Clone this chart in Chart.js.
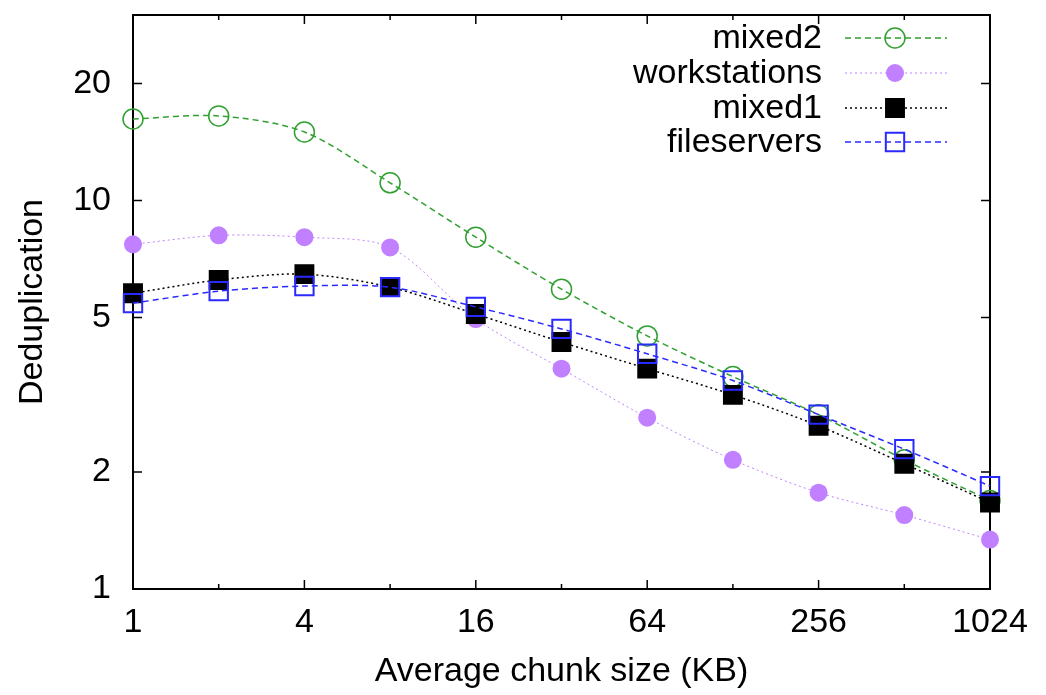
<!DOCTYPE html>
<html>
<head>
<meta charset="utf-8">
<script src="https://cdn.jsdelivr.net/npm/chart.js@4/dist/chart.umd.min.js"></script>
<style>
    html, body { margin: 0; padding: 0; background: #fff; }
    #wrap { width: 1046px; height: 695px; }
</style>
</head>
<body>
<div id="wrap"><canvas id="chart"></canvas></div>
<script>
// chunk sizes in KB (x) and dedup ratios per trace set
const chunkSizes = [1, 2, 4, 8, 16, 32, 64, 128, 256, 512, 1024];
const xLabelled = [1, 4, 16, 64, 256, 1024];
const yTicks = [1, 2, 5, 10, 20];

const mixed2 = [16.2, 16.5, 15.0, 11.1, 8.04, 5.91, 4.48, 3.52, 2.81, 2.15, 1.69];
const workstations = [7.71, 8.13, 8.04, 7.57, 4.95, 3.69, 2.76, 2.15, 1.77, 1.55, 1.34];
const mixed1 = [5.77, 6.24, 6.46, 5.98, 5.10, 4.32, 3.69, 3.16, 2.63, 2.10, 1.67];
const fileservers = [5.44, 5.84, 6.02, 5.98, 5.32, 4.67, 4.03, 3.44, 2.81, 2.29, 1.84];

const FONT = "'Liberation Sans', Arial, sans-serif";

function points(values) {
    return chunkSizes.map((x, i) => ({ x: x, y: values[i] }));
}

function series(label, values, color, opts) {
    return Object.assign({
        label: label,
        data: points(values),
        borderColor: color,
        pointBorderColor: color,
        pointBackgroundColor: 'rgba(0,0,0,0)',
        borderWidth: 1.5,
        pointBorderWidth: 1.5,
        tension: 0.3,
        clip: false
    }, opts);
}

// gnuplot-style frame with inward ticks on all four sides
const framePlugin = {
    id: 'frame',
    beforeDatasetsDraw(chart) {
        const { ctx, chartArea: a, scales: { x, y } } = chart;
        ctx.save();
        ctx.strokeStyle = '#000';
        ctx.lineWidth = 2;
        ctx.strokeRect(a.left, a.top, a.right - a.left, a.bottom - a.top);
        ctx.lineWidth = 1.5;
        ctx.beginPath();
        chunkSizes.forEach(v => {
            const px = x.getPixelForValue(v);
            const len = xLabelled.includes(v) ? 9 : 5;
            ctx.moveTo(px, a.bottom); ctx.lineTo(px, a.bottom - len);
            ctx.moveTo(px, a.top); ctx.lineTo(px, a.top + len);
        });
        yTicks.forEach(v => {
            const py = y.getPixelForValue(v);
            ctx.moveTo(a.left, py); ctx.lineTo(a.left + 9, py);
            ctx.moveTo(a.right, py); ctx.lineTo(a.right - 9, py);
        });
        ctx.stroke();
        ctx.restore();
    }
};

// legend: text right-aligned, sample line with marker to its right
const keyPlugin = {
    id: 'key',
    afterDatasetsDraw(chart) {
        const ctx = chart.ctx;
        const textRight = 822, lineL = 845, lineR = 947, mark = 895;
        const rows = [38, 73, 108, 142];
        ctx.save();
        ctx.font = '34px ' + FONT;
        ctx.textAlign = 'right';
        ctx.textBaseline = 'middle';
        chart.data.datasets.forEach((ds, i) => {
            const yy = rows[i];
            ctx.fillStyle = '#000';
            ctx.fillText(ds.label, textRight, yy + 1);
            ctx.strokeStyle = ds.borderColor;
            ctx.lineWidth = ds.borderWidth;
            ctx.setLineDash(ds.borderDash || []);
            ctx.beginPath();
            ctx.moveTo(lineL, yy); ctx.lineTo(lineR, yy);
            ctx.stroke();
            ctx.setLineDash([]);
            ctx.fillStyle = ds.pointBackgroundColor;
            ctx.strokeStyle = ds.pointBorderColor;
            ctx.lineWidth = ds.pointBorderWidth;
            Chart.helpers.drawPoint(ctx, {
                pointStyle: ds.pointStyle,
                radius: ds.pointRadius,
                rotation: 0,
                borderWidth: ds.pointBorderWidth
            }, mark, yy);
        });
        ctx.restore();
    }
};

const ctx = document.getElementById('chart').getContext('2d');

const chart = new Chart(ctx, {
    type: 'line',
    data: {
        datasets: [
            series('mixed2', mixed2, '#30a030', {
                borderDash: [6, 4], pointStyle: 'circle', pointRadius: 10, order: 4
            }),
            series('workstations', workstations, '#c080ff', {
                borderDash: [2, 3], borderWidth: 1, pointStyle: 'circle', pointRadius: 9,
                pointBackgroundColor: '#c080ff', pointBorderWidth: 0, order: 3
            }),
            series('mixed1', mixed1, '#000000', {
                borderDash: [2, 3], pointStyle: 'rect', pointRadius: 13,
                pointBackgroundColor: '#000000', order: 2
            }),
            series('fileservers', fileservers, '#2a2aff', {
                borderDash: [6, 4], pointStyle: 'rect', pointRadius: 13,
                pointBorderWidth: 2, order: 1
            })
        ]
    },
    options: {
        responsive: true,
        maintainAspectRatio: false,
        animation: false,
        layout: { padding: { top: 10, right: 56, left: 0, bottom: 0 } },
        plugins: {
            legend: { display: false },
            tooltip: { enabled: false }
        },
        scales: {
            x: {
                type: 'logarithmic',
                min: 1,
                max: 1024,
                grid: { display: false, drawTicks: false },
                border: { display: false },
                afterBuildTicks: scale => {
                    scale.ticks = chunkSizes.map(v => ({ value: v }));
                },
                afterFit: scale => {
                    scale.height = 106;
                    scale.paddingLeft = 0;
                    scale.paddingRight = 0;
                },
                ticks: {
                    autoSkip: false,
                    maxRotation: 0,
                    padding: 13,
                    color: '#000',
                    font: { family: FONT, size: 34 },
                    callback: v => xLabelled.includes(v) ? String(v) : ''
                },
                title: {
                    display: true,
                    text: 'Average chunk size (KB)',
                    color: '#000',
                    font: { family: FONT, size: 34 },
                    padding: { top: 0, bottom: 3 }
                }
            },
            y: {
                type: 'logarithmic',
                min: 1,
                max: 30,
                grid: { display: false, drawTicks: false },
                border: { display: false },
                afterBuildTicks: scale => {
                    scale.ticks = yTicks.map(v => ({ value: v }));
                },
                afterFit: scale => {
                    scale.width = 133;
                    scale.paddingTop = 0;
                    scale.paddingBottom = 0;
                },
                ticks: {
                    padding: 22,
                    color: '#000',
                    font: { family: FONT, size: 34 },
                    callback: v => String(v)
                },
                title: {
                    display: true,
                    text: 'Deduplication',
                    color: '#000',
                    font: { family: FONT, size: 34 },
                    padding: { top: 12, bottom: 0 }
                }
            }
        }
    },
    plugins: [framePlugin, keyPlugin]
});
</script>
</body>
</html>
